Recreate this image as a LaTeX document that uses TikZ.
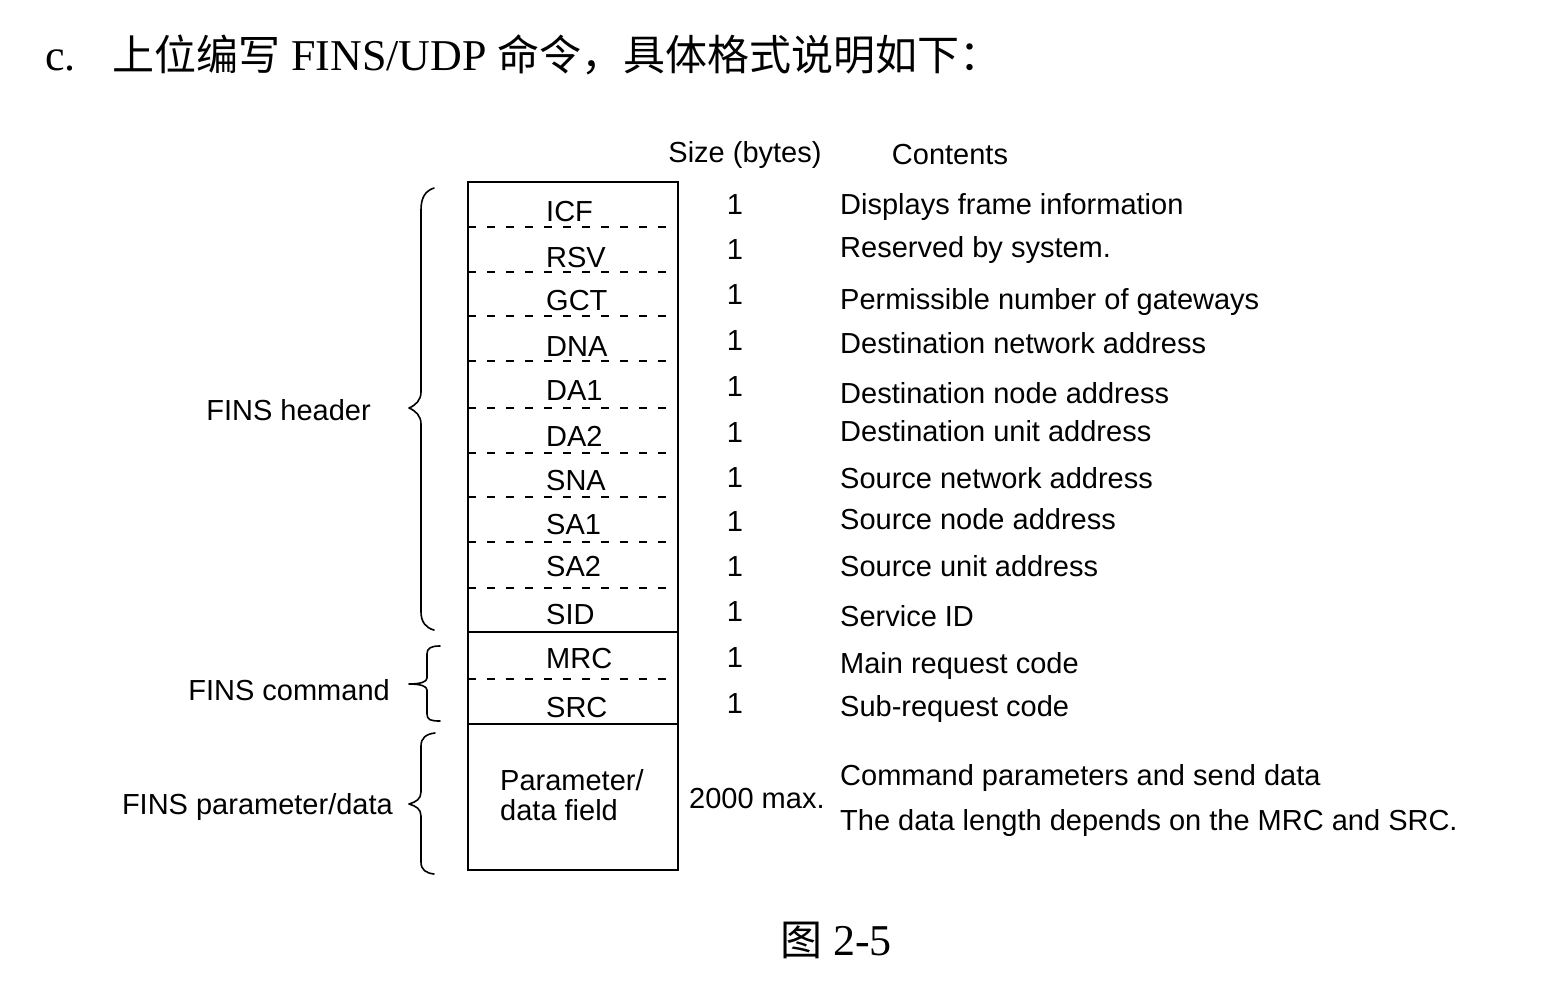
\documentclass[tikz,border=0pt]{standalone}
\usepackage{fontspec}
\setmainfont{Liberation Serif}
\newfontfamily\hv{Liberation Sans}
\newfontfamily\cjk{Noto Sans CJK SC}
\newcommand\lblfont{\hv\fontsize{29}{34}\selectfont}
\newcommand\ttlfont{\fontsize{44}{50}\selectfont}
\newcommand\cjkfont{\cjk\fontsize{42}{50}\selectfont}
\begin{document}
\begin{tikzpicture}[x=1pt,y=-1pt,
  lab/.style={font=\lblfont, inner sep=0pt, anchor=base west},
  num/.style={font=\lblfont, inner sep=0pt, anchor=base},
  side/.style={font=\lblfont, inner sep=0pt, anchor=base east},
  ttl/.style={font=\ttlfont, inner sep=0pt, anchor=base west},
  boxline/.style={line width=1.8pt, black},
  dashline/.style={line width=1.6pt, black, dash pattern=on 8pt off 11pt},
  bracel/.style={line width=1.6pt, black, line cap=round, line join=round}]
\useasboundingbox (0,0) rectangle (1556,984);
% title
\node[ttl] (tc) at (45,71) {c.};
\node[ttl] (tt) at (112,71) {{\cjkfont 上位编写} FINS/UDP {\cjkfont 命令，具体格式说明如下：}};
% column headers
\node[num] (hsize) at (745,163) {Size (bytes)};
\node[num] (hcont) at (950,165) {Contents};
% box
\draw[boxline] (468,182) rectangle (678,870);
\draw[boxline] (468,632) -- (678,632);
\draw[boxline] (468,724) -- (678,724);
\foreach \yy in {227,272,316,361,408,453,497,542,588,679}
  \draw[dashline] (468,\yy) -- (670,\yy);
% field labels
\foreach \t/\yy [count=\i] in {ICF/222,RSV/268,GCT/311,DNA/356,DA1/400,DA2/446,SNA/490,SA1/534,SA2/576,SID/624,MRC/668,SRC/717}
  \node[lab] (f\i) at (546,\yy) {\t};
\node[lab] (par1) at (500,790) {Parameter/};
\node[lab] (par2) at (500,820) {data field};
% sizes
\foreach \yy [count=\i] in {215,260,305,351,396,442,487,531,576,621,667,713}
  \node[num] (s\i) at (735,\yy) {1};
\node[lab] (s13) at (689,808) {2000 max.};
% contents
\node[lab] (c1) at (840,215) {Displays frame information};
\node[lab] (c2) at (840,258) {Reserved by system.};
\node[lab] (c3) at (840,310) {Permissible number of gateways};
\node[lab] (c4) at (840,353) {Destination network address};
\node[lab] (c5) at (840,403) {Destination node address};
\node[lab] (c6) at (840,441) {Destination unit address};
\node[lab] (c7) at (840,488) {Source network address};
\node[lab] (c8) at (840,529) {Source node address};
\node[lab] (c9) at (840,576) {Source unit address};
\node[lab] (c10) at (840,626) {Service ID};
\node[lab] (c11) at (840,673) {Main request code};
\node[lab] (c12) at (840,716) {Sub-request code};
\node[lab] (c13) at (840,785) {Command parameters and send data};
\node[lab] (c14) at (840,830) {The data length depends on the MRC and SRC.};
% group labels
\node[side] (g1) at (371,420) {FINS header};
\node[side] (g2) at (390,700) {FINS command};
\node[side] (g3) at (393,814) {FINS parameter/data};
% braces
\draw[bracel] (434,188) .. controls (425,191) and (421,198) .. (421,210)
  -- (421,392) .. controls (421,400) and (416,405) .. (409,408)
  .. controls (416,411) and (421,416) .. (421,424)
  -- (421,612) .. controls (421,622) and (426,628) .. (434,630);
\draw[bracel] (440,646) .. controls (431,646) and (427,648) .. (427,654)
  -- (427,678) .. controls (427,682) and (420,684) .. (409,684)
  .. controls (420,684) and (427,686) .. (427,690)
  -- (427,714) .. controls (427,720) and (431,721) .. (440,721);
\draw[bracel] (435,733) .. controls (426,734) and (421,738) .. (421,746)
  -- (421,792) .. controls (421,799) and (416,802) .. (409,804)
  .. controls (416,806) and (421,809) .. (421,816)
  -- (421,862) .. controls (421,870) and (426,873) .. (434,874);
% caption
\node[ttl, anchor=base] (cap) at (836,955) {{\cjkfont 图} 2-5};
\end{tikzpicture}
\end{document}
